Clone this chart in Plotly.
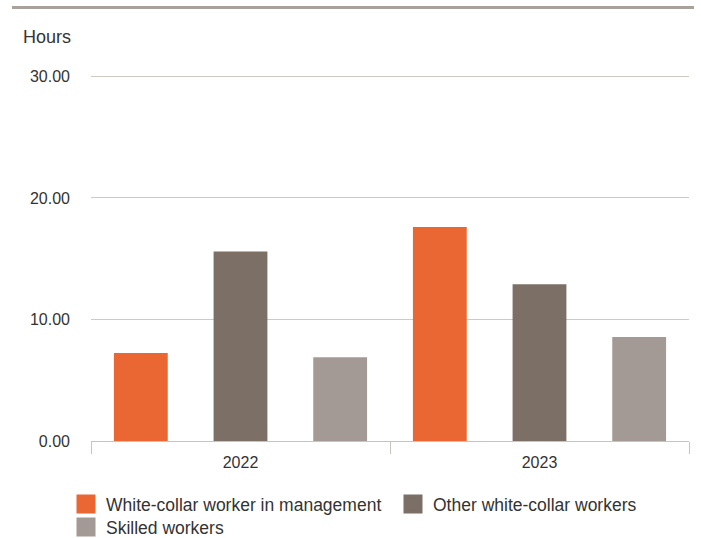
import plotly.graph_objects as go

years = ["2022", "2023"]
series_names = ["White-collar worker in management", "Other white-collar workers", "Skilled workers"]
management = [7.25, 17.6]
other_white_collar = [15.6, 12.9]
skilled = [6.9, 8.55]
y_ticks = [0, 10, 20, 30]
y_tick_labels = ["0.00", "10.00", "20.00", "30.00"]

colors = ["#EA6632", "#7B6F66", "#A39A95"]
values = [management, other_white_collar, skilled]
text_color = "#333333"
font_family = "Liberation Sans, Arial, sans-serif"

W, H = 701, 538
# legend slots (left edge of the legend box, row centre) in pixels
legend_slots = [(66, 504), (393, 504), (66, 527)]
legend_ids = ["legend", "legend2", "legend3"]

fig = go.Figure()
for name, vals, col, lid in zip(series_names, values, colors, legend_ids):
    fig.add_trace(go.Bar(x=years, y=vals, name=name, marker=dict(color=col, line=dict(width=0)),
                         showlegend=False))
    # square legend swatch
    fig.add_trace(go.Scatter(x=[None], y=[None], mode="markers", name=name, legend=lid,
                             marker=dict(symbol="square", size=20, color=col,
                                         line=dict(color=col, width=3))))

legend_layout = {}
for lid, (lx, ly) in zip(legend_ids, legend_slots):
    legend_layout[lid] = dict(xref="container", yref="container",
                              x=lx / W, y=1 - ly / H, xanchor="left", yanchor="middle",
                              itemsizing="trace", bgcolor="rgba(0,0,0,0)",
                              font=dict(size=17.5, color=text_color))

y_top = 30.2
plot_bottom = 441
px_per_unit = (441 - 76) / 30
plot_top = plot_bottom - y_top * px_per_unit

fig.update_layout(
    width=W, height=H,
    margin=dict(l=91, r=12, t=plot_top, b=H - plot_bottom, autoexpand=False),
    paper_bgcolor="white", plot_bgcolor="white",
    font=dict(family=font_family, size=16, color=text_color),
    barmode="group", bargap=0.0, bargroupgap=0.46,
    showlegend=True,
    xaxis=dict(type="category", tickson="boundaries", ticks="outside", ticklen=12,
               tickcolor="#C9C2BD", showline=False, showgrid=False, zeroline=False,
               ticklabelstandoff=10, tickfont=dict(size=16, color=text_color)),
    yaxis=dict(range=[0, y_top], tickvals=y_ticks, ticktext=y_tick_labels,
               showgrid=True, gridcolor="#CFC8C3", gridwidth=1.3,
               zeroline=True, zerolinecolor="#C9C2BD", zerolinewidth=1.3,
               showline=False, ticks="", ticklabelstandoff=20,
               tickfont=dict(size=16, color=text_color)),
    shapes=[dict(type="line", xref="paper", yref="paper",
                 x0=(12 - 91) / 598, x1=(694 - 91) / 598,
                 y0=(plot_bottom - 7) / (plot_bottom - plot_top), y1=(plot_bottom - 7) / (plot_bottom - plot_top),
                 line=dict(color="#A8A19C", width=3))],
    annotations=[dict(text="Hours", xref="paper", yref="paper",
                      x=(21 - 91) / 598, y=(plot_bottom - 37) / (plot_bottom - plot_top),
                      xanchor="left", yanchor="middle",
                      showarrow=False, font=dict(size=18, color=text_color))],
    **legend_layout,
)

fig.write_html("out.html")
